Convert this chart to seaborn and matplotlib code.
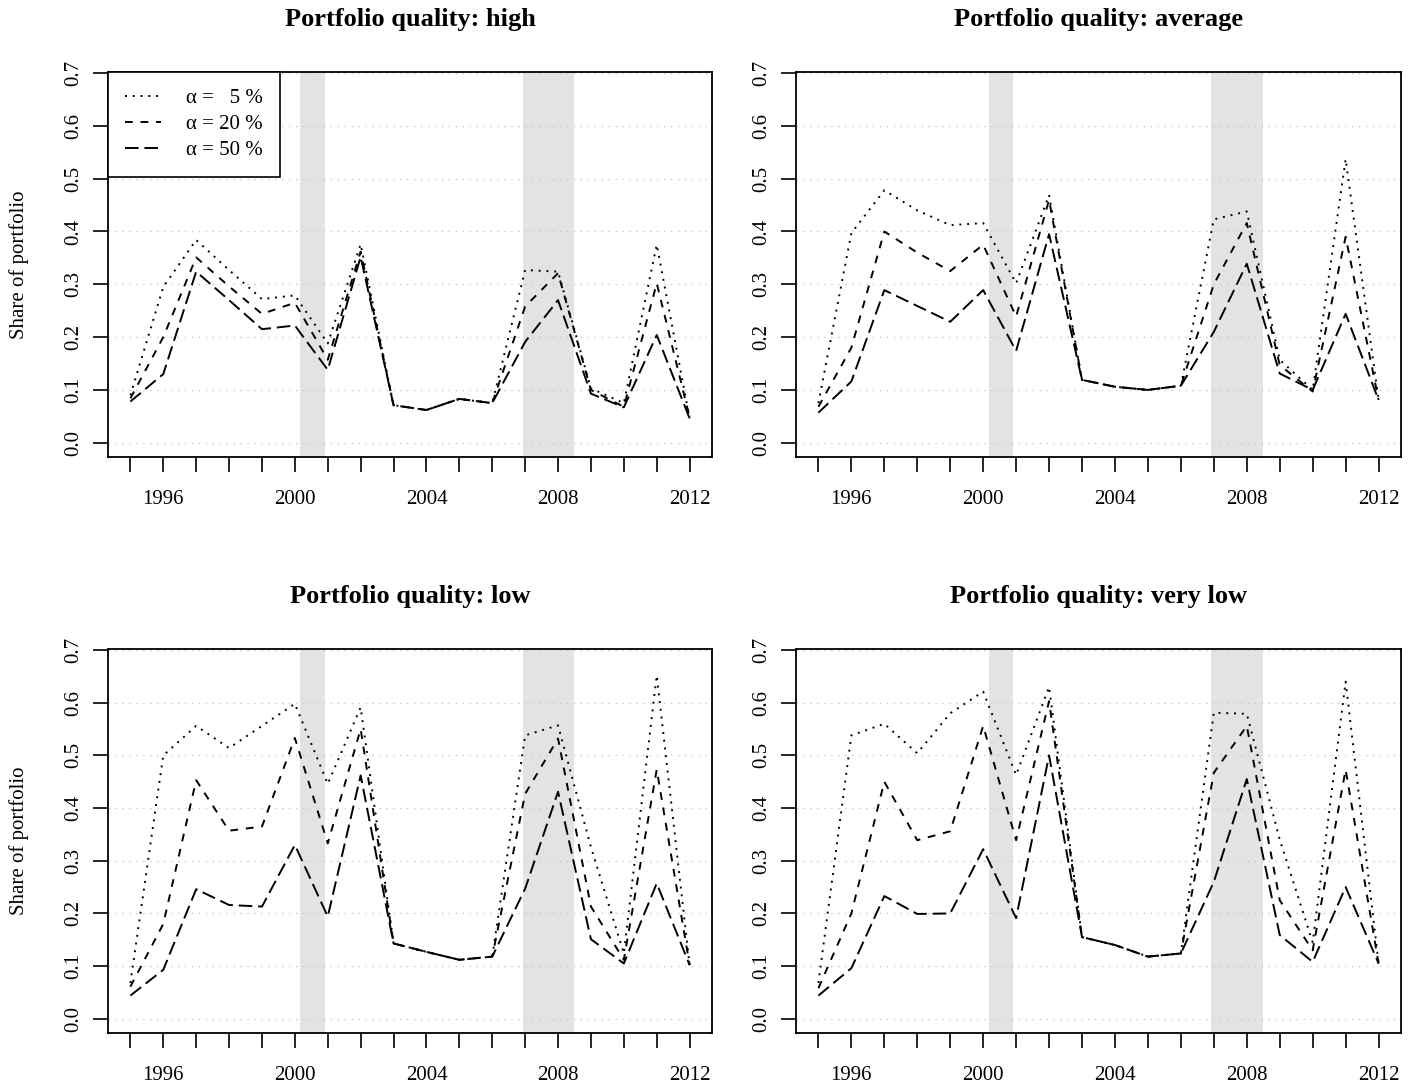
import numpy as np
import pandas as pd
import matplotlib
matplotlib.use("Agg")
import matplotlib.pyplot as plt
from matplotlib.lines import Line2D
import seaborn as sns

sns.set_style("ticks")
plt.rcParams['font.family'] = ['Liberation Serif', 'DejaVu Serif']
plt.rcParams['text.color'] = 'black'
plt.rcParams['axes.labelcolor'] = 'black'
plt.rcParams['xtick.color'] = 'black'
plt.rcParams['ytick.color'] = 'black'

years = list(range(1995, 2013))
qualities = ["high", "average", "low", "very low"]
alpha_labels = ["α =   5 %", "α = 20 %", "α = 50 %"]

high_a5 = [0.090, 0.295, 0.384, 0.327, 0.272, 0.279, 0.188, 0.376, 0.071, 0.062, 0.083, 0.075, 0.327, 0.324, 0.103, 0.075, 0.375, 0.046]
high_a20 = [0.084, 0.200, 0.351, 0.296, 0.244, 0.265, 0.157, 0.362, 0.071, 0.062, 0.083, 0.075, 0.258, 0.321, 0.100, 0.068, 0.302, 0.048]
high_a50 = [0.078, 0.130, 0.324, 0.270, 0.215, 0.222, 0.138, 0.352, 0.071, 0.062, 0.083, 0.075, 0.191, 0.270, 0.093, 0.067, 0.204, 0.046]

avg_a5 = [0.075, 0.397, 0.478, 0.440, 0.412, 0.416, 0.302, 0.469, 0.119, 0.106, 0.100, 0.108, 0.423, 0.438, 0.157, 0.100, 0.537, 0.081]
avg_a20 = [0.068, 0.180, 0.400, 0.360, 0.325, 0.375, 0.239, 0.460, 0.119, 0.106, 0.100, 0.108, 0.300, 0.416, 0.147, 0.097, 0.390, 0.081]
avg_a50 = [0.057, 0.116, 0.289, 0.259, 0.229, 0.289, 0.174, 0.395, 0.119, 0.106, 0.100, 0.108, 0.210, 0.339, 0.131, 0.100, 0.244, 0.081]

low_a5 = [0.068, 0.500, 0.556, 0.514, 0.556, 0.598, 0.446, 0.591, 0.143, 0.127, 0.112, 0.118, 0.538, 0.557, 0.326, 0.124, 0.652, 0.102]
low_a20 = [0.061, 0.180, 0.453, 0.357, 0.365, 0.533, 0.333, 0.550, 0.143, 0.127, 0.112, 0.118, 0.427, 0.532, 0.213, 0.112, 0.473, 0.102]
low_a50 = [0.044, 0.093, 0.246, 0.216, 0.213, 0.330, 0.194, 0.462, 0.143, 0.127, 0.112, 0.118, 0.247, 0.431, 0.151, 0.105, 0.257, 0.102]

vlow_a5 = [0.068, 0.538, 0.560, 0.504, 0.580, 0.621, 0.463, 0.630, 0.155, 0.140, 0.118, 0.124, 0.581, 0.579, 0.340, 0.145, 0.640, 0.105]
vlow_a20 = [0.058, 0.200, 0.450, 0.339, 0.356, 0.556, 0.339, 0.603, 0.155, 0.140, 0.118, 0.124, 0.467, 0.556, 0.225, 0.130, 0.473, 0.105]
vlow_a50 = [0.044, 0.096, 0.233, 0.199, 0.200, 0.322, 0.191, 0.500, 0.155, 0.140, 0.118, 0.124, 0.260, 0.455, 0.159, 0.108, 0.250, 0.105]

recessions = [(2000.17, 2000.92), (2006.92, 2008.5)]

series = {
    "high": [high_a5, high_a20, high_a50],
    "average": [avg_a5, avg_a20, avg_a50],
    "low": [low_a5, low_a20, low_a50],
    "very low": [vlow_a5, vlow_a20, vlow_a50],
}

rows = []
for q in qualities:
    for lab, vals in zip(alpha_labels, series[q]):
        for y, v in zip(years, vals):
            rows.append({"quality": q, "alpha": lab, "year": y, "share": v})
df = pd.DataFrame(rows)

dash_map = {alpha_labels[0]: (1, 3), alpha_labels[1]: (4, 4), alpha_labels[2]: (7, 3)}
LW = 1.4

fig = plt.figure(figsize=(14.16, 10.86), dpi=100)
W, H = 1416, 1086
boxes = [
    (108, 72, 712, 457),
    (796, 72, 1401, 457),
    (108, 649, 712, 1033),
    (796, 649, 1401, 1033),
]

xticklabs = [str(y) if y in (1996, 2000, 2004, 2008, 2012) else "" for y in years]

for i, q in enumerate(qualities):
    l, t, r, b = boxes[i]
    ax = fig.add_axes([l / W, 1 - b / H, (r - l) / W, (b - t) / H])
    for (x0, x1) in recessions:
        ax.axvspan(x0, x1, color="#e3e3e3", lw=0, zorder=0)
    for yv in np.arange(0, 0.71, 0.1):
        ax.axhline(yv, color="#c8c8c8", lw=1.0, ls=(0, (1, 4)), zorder=0.5)
    sub = df[df["quality"] == q]
    sns.lineplot(data=sub, x="year", y="share", style="alpha", style_order=alpha_labels,
                 dashes=dash_map, color="black", linewidth=LW, legend=False, ax=ax,
                 zorder=3)
    ax.set_xlim(1994.32, 2012.68)
    ax.set_ylim(-0.027, 0.702)
    ax.set_xticks(years)
    ax.set_xticklabels(xticklabs)
    ax.set_yticks([0.0, 0.1, 0.2, 0.3, 0.4, 0.5, 0.6, 0.7])
    ax.set_yticklabels(["0.0", "0.1", "0.2", "0.3", "0.4", "0.5", "0.6", "0.7"],
                       rotation=90, va="center")
    ax.tick_params(axis="both", direction="out", length=10.5, width=1.2,
                   labelsize=15, color="black", labelcolor="black",
                   bottom=True, left=True, top=False, right=False)
    ax.tick_params(axis="x", pad=13)
    ax.tick_params(axis="y", pad=7)
    for s in ax.spines.values():
        s.set_visible(True)
        s.set_linewidth(1.3)
        s.set_color("black")
    ax.set_xlabel("")
    if i % 2 == 0:
        ax.set_ylabel("Share of portfolio", fontsize=15, color="black")
        ax.yaxis.set_label_coords(-0.13, 0.5)
    else:
        ax.set_ylabel("")
    ax.set_title(f"Portfolio quality: {q}", fontsize=19, fontweight="bold", pad=33,
                 color="black")
    if i == 0:
        handles = [Line2D([0], [0], color="black", lw=LW, ls=(0, dash_map[a])) for a in alpha_labels]
        leg = ax.legend(handles, alpha_labels, loc="upper left", bbox_to_anchor=(0, 1),
                        borderaxespad=0, fontsize=15, frameon=True, fancybox=False,
                        handlelength=1.75, handletextpad=1.2, borderpad=0.8,
                        labelspacing=0.3)
        leg.get_frame().set_edgecolor("black")
        leg.get_frame().set_linewidth(1.2)
        leg.get_frame().set_alpha(1)
        for txt in leg.get_texts():
            txt.set_color("black")

fig.savefig("out.png", dpi=100, facecolor="white")
